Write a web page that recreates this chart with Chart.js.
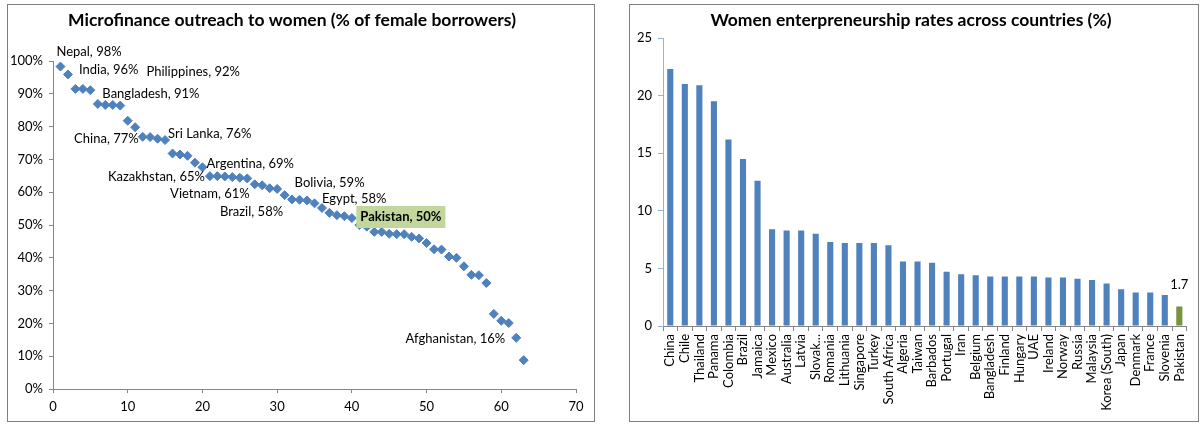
<!DOCTYPE html>
<html>
<head>
<meta charset="utf-8">
<script src="https://cdn.jsdelivr.net/npm/chart.js@4"></script>
<style>
  body { margin: 0; width: 1200px; height: 425px; background: #fff; position: relative; overflow: hidden; }
  .box { position: absolute; border: 1px solid #7f7f7f; box-sizing: border-box; background: #fff; }
  #leftBox { left: 7px; top: 4px; width: 588px; height: 418px; }
  #rightBox { left: 629px; top: 4px; width: 570px; height: 418px; }
  canvas { display: block; }
</style>
</head>
<body>
<div class="box" id="leftBox"><canvas id="outreach" width="586" height="416"></canvas></div>
<div class="box" id="rightBox"><canvas id="rates" width="568" height="416"></canvas></div>
<script>
// left chart: institutions ranked by share of female borrowers
const outreachRank = [1, 2, 3, 4, 5, 6, 7, 8, 9, 10, 11, 12, 13, 14, 15, 16, 17, 18, 19, 20,
    21, 22, 23, 24, 25, 26, 27, 28, 29, 30, 31, 32, 33, 34, 35, 36, 37, 38, 39, 40,
    41, 42, 43, 44, 45, 46, 47, 48, 49, 50, 51, 52, 53, 54, 55, 56, 57, 58, 59, 60,
    61, 62, 63];
const outreachPct = [98.3, 95.9, 91.5, 91.5, 91.1, 86.9, 86.6, 86.6, 86.4, 81.8,
    79.8, 76.9, 76.8, 76.3, 75.9, 71.8, 71.5, 71.1, 69.0, 67.6,
    64.9, 64.9, 64.8, 64.6, 64.4, 64.2, 62.4, 62.1, 61.2, 61.0,
    59.1, 57.8, 57.7, 57.5, 56.6, 55.2, 53.7, 53.0, 52.7, 52.1,
    50.0, 49.5, 47.9, 47.9, 47.3, 47.2, 47.2, 46.4, 45.9, 44.5,
    42.6, 42.5, 40.4, 40.0, 37.4, 34.8, 34.7, 32.3, 22.9, 20.8,
    20.1, 15.6, 8.8];
const outreachTicks = [0, 10, 20, 30, 40, 50, 60, 70];
const pctTicks = [0, 10, 20, 30, 40, 50, 60, 70, 80, 90, 100];

// labelled countries and the rank they point at
const noteNames = ["Nepal", "India", "Philippines", "Bangladesh", "China", "Sri Lanka", "Argentina",
    "Kazakhstan", "Vietnam", "Brazil", "Bolivia", "Egypt", "Pakistan", "Afghanistan"];
const notePct = [98, 96, 92, 91, 77, 76, 69, 65, 61, 58, 59, 58, 50, 16];
const noteRank = [1, 2, 3, 5, 12, 15, 20, 21, 29, 32, 31, 36, 41, 62];

// right chart
const countries = ["China", "Chile", "Thailand", "Panama", "Colombia", "Brazil", "Jamaica", "Mexico",
    "Australia", "Latvia", "Slovak...", "Romania", "Lithuania", "Singapore", "Turkey", "South Africa",
    "Algeria", "Taiwan", "Barbados", "Portugal", "Iran", "Belgium", "Bangladesh", "Finland", "Hungary",
    "UAE", "Ireland", "Norway", "Russia", "Malaysia", "Korea (South)", "Japan", "Denmark", "France",
    "Slovenia", "Pakistan"];
const rates = [22.3, 21.0, 20.9, 19.5, 16.2, 14.5, 12.6, 8.4, 8.3, 8.3, 8.0, 7.3, 7.2, 7.2, 7.2, 7.0,
    5.6, 5.6, 5.5, 4.7, 4.5, 4.4, 4.3, 4.3, 4.3, 4.3, 4.2, 4.2, 4.1, 4.0, 3.7, 3.2, 2.9, 2.9, 2.7, 1.7];
const rateTicks = [0, 5, 10, 15, 20, 25];
const focusCountry = "Pakistan";

const FONT = "Lato";
const BLUE = "#4f81bd";
const GREEN = "#77933c";
const AXIS = "#868686";

Chart.defaults.font.family = FONT;
Chart.defaults.font.size = 13;
Chart.defaults.color = "#000";
Chart.defaults.animation = false;

// where each callout sits relative to its point (px)
const noteLayout = [
    {dx: -4, dy: -15, align: "left"},
    {dx: 11, dy: -5, align: "left"},
    {dx: 71, dy: -17, align: "left"},
    {dx: 12, dy: 4, align: "left"},
    {dx: -4, dy: 2, align: "right"},
    {dx: 3, dy: -6, align: "left"},
    {dx: 4, dy: -3, align: "left"},
    {dx: -5, dy: 1, align: "right"},
    {dx: -20, dy: 6, align: "right"},
    {dx: -9, dy: 12, align: "right"},
    {dx: 10, dy: -12, align: "left"},
    {dx: 0, dy: -9, align: "left"},
    {dx: 1, dy: -8, align: "left", box: true},
    {dx: -11, dy: 1, align: "right"}
];

const calloutPlugin = {
    id: "callouts",
    afterDatasetsDraw(chart) {
        const ctx = chart.ctx;
        const xs = chart.scales.x, ys = chart.scales.y;
        ctx.save();
        ctx.textBaseline = "middle";
        noteNames.forEach((name, k) => {
            const idx = noteRank[k] - 1;
            const lay = noteLayout[k];
            const px = xs.getPixelForValue(outreachRank[idx]) + lay.dx;
            const py = ys.getPixelForValue(outreachPct[idx]) + lay.dy;
            const text = name + ", " + notePct[k] + "%";
            ctx.font = (lay.box ? "bold " : "") + "13px " + FONT;
            ctx.textAlign = lay.align;
            if (lay.box) {
                const w = ctx.measureText(text).width;
                ctx.fillStyle = "#c3d69b";
                ctx.fillRect(px - 4, py - 11, w + 8, 22);
            }
            ctx.fillStyle = "#000";
            ctx.fillText(text, px, py);
        });
        ctx.restore();
    }
};

new Chart(document.getElementById("outreach"), {
    type: "scatter",
    data: {
        datasets: [{
            data: outreachRank.map((r, i) => ({x: r, y: outreachPct[i]})),
            backgroundColor: BLUE,
            borderColor: BLUE,
            borderWidth: 1,
            pointStyle: "rectRot",
            pointRadius: 4.5
        }]
    },
    options: {
        responsive: false,
        events: [],
        layout: {padding: {left: 0, right: 18, top: 0, bottom: 0}},
        plugins: {
            legend: {display: false},
            tooltip: {enabled: false},
            title: {
                display: true,
                text: "Microfinance outreach to women (% of female borrowers)",
                font: {size: 17.5, weight: "bold"},
                color: "#000",
                padding: {top: 5, bottom: 30}
            }
        },
        scales: {
            x: {
                type: "linear",
                min: 0, max: 70,
                afterBuildTicks: s => { s.ticks = outreachTicks.map(v => ({value: v})); },
                ticks: {padding: 6},
                grid: {drawOnChartArea: false, tickLength: 4, color: AXIS},
                border: {color: AXIS},
                afterFit: s => { s.height = 32; }
            },
            y: {
                min: 0, max: 100,
                afterBuildTicks: s => { s.ticks = pctTicks.map(v => ({value: v})); },
                ticks: {callback: v => v + "%", padding: 6},
                grid: {drawOnChartArea: false, tickLength: 4, color: AXIS},
                border: {color: AXIS},
                afterFit: s => { s.width = 45; }
            }
        }
    },
    plugins: [calloutPlugin]
});

const valueLabelPlugin = {
    id: "focusLabel",
    afterDatasetsDraw(chart) {
        const ctx = chart.ctx;
        const k = countries.indexOf(focusCountry);
        const bar = chart.getDatasetMeta(0).data[k];
        ctx.save();
        ctx.font = "13px " + FONT;
        ctx.fillStyle = "#000";
        ctx.textAlign = "center";
        ctx.textBaseline = "middle";
        ctx.fillText(rates[k].toFixed(1), bar.x, bar.y - 22);
        ctx.restore();
    }
};

new Chart(document.getElementById("rates"), {
    type: "bar",
    data: {
        labels: countries,
        datasets: [{
            data: rates,
            backgroundColor: countries.map(c => c === focusCountry ? GREEN : BLUE),
            barPercentage: 0.42,
            categoryPercentage: 1
        }]
    },
    options: {
        responsive: false,
        events: [],
        layout: {padding: {left: 0, right: 6, top: 0, bottom: 0}},
        plugins: {
            legend: {display: false},
            tooltip: {enabled: false},
            title: {
                display: true,
                text: "Women enterpreneurship rates across countries (%)",
                font: {size: 17.5, weight: "bold"},
                color: "#000",
                padding: {top: 5, bottom: 7}
            }
        },
        scales: {
            x: {
                ticks: {autoSkip: false, maxRotation: 90, minRotation: 90, padding: 3},
                grid: {offset: true, drawOnChartArea: false, tickLength: 5, color: AXIS},
                border: {color: AXIS},
                afterFit: s => { s.height = 95; }
            },
            y: {
                min: 0, max: 25,
                afterBuildTicks: s => { s.ticks = rateTicks.map(v => ({value: v})); },
                ticks: {padding: 6},
                grid: {drawOnChartArea: false, tickLength: 5, color: "#8eb4e3"},
                border: {color: "#8eb4e3"},
                afterFit: s => { s.width = 33; }
            }
        }
    },
    plugins: [valueLabelPlugin]
});
</script>
</body>
</html>
